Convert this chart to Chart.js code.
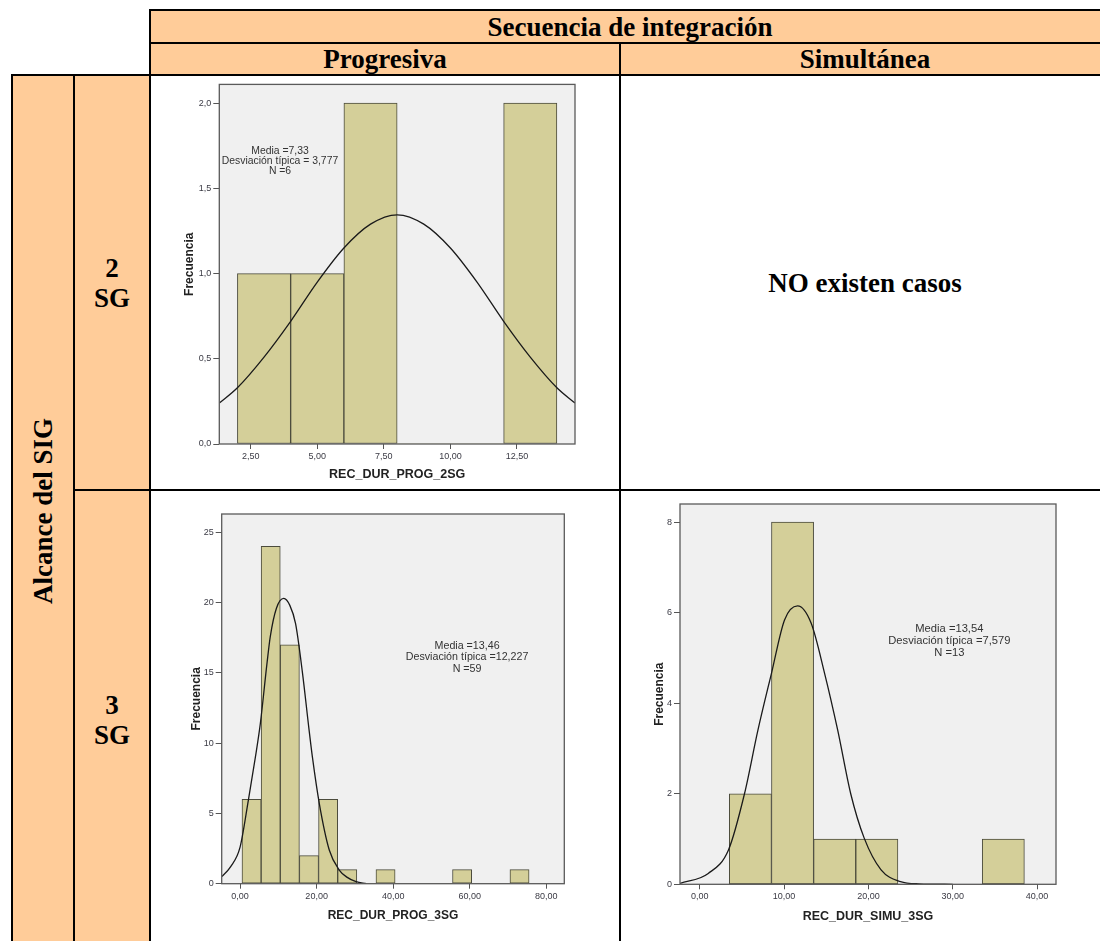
<!DOCTYPE html>
<html lang="es">
<head>
<meta charset="utf-8">
<title>Duración según secuencia de integración y alcance del SIG</title>
<script src="https://cdn.jsdelivr.net/npm/chart.js@4.4.1/dist/chart.umd.min.js"></script>
<style>
  html, body { margin: 0; padding: 0; background: #fff; }
  #page { position: relative; width: 1100px; height: 941px; overflow: hidden;
          font-family: 'Liberation Serif', 'Times New Roman', serif; }
  .cell { position: absolute; display: flex; align-items: center; justify-content: center;
          text-align: center; font-weight: bold; font-size: 27px; color: #000; line-height: 30px; }
  .tan { background: #ffcc99; }
  .ln { position: absolute; background: #000; }
  .rot { position: absolute; white-space: nowrap; font-weight: bold; font-size: 27px;
         transform: translate(-50%, -50%) rotate(-90deg); }
  canvas { position: absolute; }
</style>
</head>
<body>
<div id="page">
  <!-- header and row-label cells -->
  <div class="cell tan" style="left:150px;top:10px;width:960px;height:33px;">Secuencia de integración</div>
  <div class="cell tan" style="left:150px;top:43px;width:470px;height:32px;">Progresiva</div>
  <div class="cell tan" style="left:620px;top:43px;width:490px;height:32px;">Simultánea</div>
  <div class="cell tan" style="left:12px;top:75px;width:62px;height:900px;"></div>
  <div class="rot" style="left:43px;top:511px;">Alcance del SIG</div>
  <div class="cell tan" style="left:74px;top:75px;width:76px;height:415px;">2<br>SG</div>
  <div class="cell tan" style="left:74px;top:490px;width:76px;height:460px;">3<br>SG</div>
  <div class="cell" style="left:620px;top:75px;width:490px;height:415px;">NO existen casos</div>

  <!-- table rules -->
  <div class="ln" style="left:149px;top:9px;width:961px;height:2px;"></div>
  <div class="ln" style="left:149px;top:42px;width:961px;height:2px;"></div>
  <div class="ln" style="left:11px;top:74px;width:1099px;height:2px;"></div>
  <div class="ln" style="left:73px;top:489px;width:1037px;height:2px;"></div>
  <div class="ln" style="left:149px;top:9px;width:2px;height:960px;"></div>
  <div class="ln" style="left:619px;top:42px;width:2px;height:920px;"></div>
  <div class="ln" style="left:11px;top:74px;width:2px;height:900px;"></div>
  <div class="ln" style="left:73px;top:74px;width:2px;height:900px;"></div>

  <canvas id="chartProg2" width="466" height="411" style="left:152px;top:77px;"></canvas>
  <canvas id="chartProg3" width="466" height="449" style="left:152px;top:492px;"></canvas>
  <canvas id="chartSimu3" width="478" height="449" style="left:622px;top:492px;"></canvas>
</div>

<script>
// ---------- REC_DUR_PROG_2SG ----------
const BINS_PROG_2SG   = [3, 5, 7, 9, 11, 13];          // bin centres (width 2)
const COUNTS_PROG_2SG = [1, 1, 2, 0, 0, 2];
const CURVE_X_PROG_2SG = [1.32, 2, 3, 4, 5, 6, 7, 8, 9, 10, 11, 12, 13, 14, 14.68];
const CURVE_Y_PROG_2SG = [0.24, 0.33, 0.51, 0.72, 0.95, 1.15, 1.29, 1.345, 1.29, 1.15, 0.95, 0.72, 0.51, 0.33, 0.24];
const XTICKS_PROG_2SG = [2.5, 5, 7.5, 10, 12.5];
const XLABELS_PROG_2SG = ['2,50', '5,00', '7,50', '10,00', '12,50'];
const YTICKS_PROG_2SG = [0, 0.5, 1, 1.5, 2];
const YLABELS_PROG_2SG = ['0,0', '0,5', '1,0', '1,5', '2,0'];
const STATS_PROG_2SG = ['Media =7,33', 'Desviación típica = 3,777', 'N =6'];

// ---------- REC_DUR_PROG_3SG ----------
const BINS_PROG_3SG   = [3, 8, 13, 18, 23, 28, 33, 38, 43, 48, 53, 58, 63, 68, 73];   // width 5
const COUNTS_PROG_3SG = [6, 24, 17, 2, 6, 1, 0, 1, 0, 0, 0, 1, 0, 0, 1];
const CURVE_X_PROG_3SG = [-4.8, -2.5, 0, 2.2, 4, 5.3, 7, 7.9, 9.5, 11.4, 13, 14.5, 16.3, 18, 18.9, 20.7, 23.3, 25.9, 28, 30.3, 33];
const CURVE_Y_PROG_3SG = [0.5, 1.2, 2.6, 6.0, 9.0, 11.4, 15.6, 17.6, 19.6, 20.3, 19.8, 18.5, 15.0, 11.0, 9.0, 5.7, 2.4, 0.97, 0.45, 0.14, 0];
const XTICKS_PROG_3SG = [0, 20, 40, 60, 80];
const XLABELS_PROG_3SG = ['0,00', '20,00', '40,00', '60,00', '80,00'];
const YTICKS_PROG_3SG = [0, 5, 10, 15, 20, 25];
const YLABELS_PROG_3SG = ['0', '5', '10', '15', '20', '25'];
const STATS_PROG_3SG = ['Media =13,46', 'Desviación típica =12,227', 'N =59'];

// ---------- REC_DUR_SIMU_3SG ----------
const BINS_SIMU_3SG   = [6, 11, 16, 21, 26, 31, 36];   // width 5
const COUNTS_SIMU_3SG = [2, 8, 1, 1, 0, 0, 1];
const CURVE_X_SIMU_3SG = [-2.35, 1, 3.4, 5.3, 6.9, 8.5, 10.05, 11.6, 13.2, 14.8, 16.35, 17.9, 19.5, 21.5, 23.8, 26, 30];
const CURVE_Y_SIMU_3SG = [0.02, 0.24, 0.76, 2.0, 3.41, 4.66, 5.84, 6.15, 5.77, 4.66, 3.41, 2.0, 1.02, 0.32, 0.06, 0.01, 0];
const XTICKS_SIMU_3SG = [0, 10, 20, 30, 40];
const XLABELS_SIMU_3SG = ['0,00', '10,00', '20,00', '30,00', '40,00'];
const YTICKS_SIMU_3SG = [0, 2, 4, 6, 8];
const YLABELS_SIMU_3SG = ['0', '2', '4', '6', '8'];
const STATS_SIMU_3SG = ['Media =13,54', 'Desviación típica =7,579', 'N =13'];

const SANS = "'Liberation Sans', Arial, sans-serif";

// Grey plot background and dark frame around the plotting area
const plotFrame = {
  id: 'plotFrame',
  beforeDraw(chart) {
    const { ctx, chartArea: a } = chart;
    ctx.save();
    ctx.fillStyle = '#f0f0f0';
    ctx.fillRect(a.left, a.top, a.right - a.left, a.bottom - a.top);
    ctx.restore();
  },
  afterDraw(chart) {
    const { ctx, chartArea: a } = chart;
    ctx.save();
    ctx.strokeStyle = '#5a5a5a';
    ctx.lineWidth = 1.3;
    ctx.strokeRect(a.left, a.top, a.right - a.left, a.bottom - a.top);
    ctx.restore();
  }
};

// Summary statistics block inside the plot
const statsText = {
  id: 'statsText',
  afterDraw(chart, args, opts) {
    if (!opts || !opts.lines) return;
    const { ctx, scales } = chart;
    const cx = scales.x.getPixelForValue(opts.x);
    const cy = scales.y.getPixelForValue(opts.y);
    ctx.save();
    ctx.fillStyle = '#333';
    ctx.font = opts.size + 'px ' + SANS;
    ctx.textAlign = 'center';
    ctx.textBaseline = 'middle';
    opts.lines.forEach((t, i) => ctx.fillText(t, cx, cy + i * opts.spacing));
    ctx.restore();
  }
};

function histogram(id, d, g) {
  const barPts = d.bins.map((b, i) => ({ x: b, y: d.counts[i] }));
  const curvePts = d.curveX.map((x, i) => ({ x: x, y: d.curveY[i] }));
  return new Chart(document.getElementById(id), {
    type: 'bar',
    data: {
      datasets: [
        {
          type: 'line', data: curvePts, order: 0,
          borderColor: '#1a1a1a', borderWidth: 1.3, pointRadius: 0,
          cubicInterpolationMode: 'monotone', fill: false
        },
        {
          type: 'bar', data: barPts, order: 1,
          backgroundColor: '#d4cf99', borderColor: '#4b4b3c',
          borderWidth: c => (c.raw && c.raw.y > 0 ? 1 : 0),
          borderSkipped: false, barPercentage: 1, categoryPercentage: 1
        }
      ]
    },
    options: {
      responsive: false, animation: false, devicePixelRatio: 1,
      layout: { padding: g.pad },
      plugins: {
        legend: { display: false }, tooltip: { enabled: false },
        statsText: { lines: d.stats, x: g.statX, y: g.statY, size: g.statSize, spacing: g.statSpacing }
      },
      scales: {
        x: {
          type: 'linear', min: g.xMin, max: g.xMax, offset: false,
          afterBuildTicks: s => { s.ticks = d.xTicks.map(v => ({ value: v })); },
          afterFit: s => { s.height = g.xAxisH; },
          ticks: {
            callback: (v, i) => d.xLabels[i], autoSkip: false, maxRotation: 0,
            font: { family: SANS, size: 9 }, color: '#3a3a44', padding: 2
          },
          grid: { offset: false, drawOnChartArea: false, drawTicks: true, tickLength: 5, color: '#555' },
          border: { display: false },
          title: {
            display: true, text: d.xTitle, color: '#222',
            font: { family: SANS, size: g.titleSize, weight: 'bold' },
            padding: { top: 0, bottom: g.xTitlePad }
          }
        },
        y: {
          type: 'linear', min: 0, max: g.yMax,
          afterBuildTicks: s => { s.ticks = d.yTicks.map(v => ({ value: v })); },
          afterFit: s => { s.width = g.yAxisW; },
          ticks: {
            callback: (v, i) => d.yLabels[i], autoSkip: false,
            font: { family: SANS, size: 9 }, color: '#3a3a44', padding: 2
          },
          grid: { offset: false, drawOnChartArea: false, drawTicks: true, tickLength: 6, color: '#555' },
          border: { display: false },
          title: {
            display: true, text: 'Frecuencia', color: '#222',
            font: { family: SANS, size: 12, weight: 'bold' },
            padding: { top: g.yTitlePad, bottom: 0 }
          }
        }
      }
    },
    plugins: [plotFrame, statsText]
  });
}

histogram('chartProg2', {
  bins: BINS_PROG_2SG, counts: COUNTS_PROG_2SG,
  curveX: CURVE_X_PROG_2SG, curveY: CURVE_Y_PROG_2SG,
  xTicks: XTICKS_PROG_2SG, xLabels: XLABELS_PROG_2SG,
  yTicks: YTICKS_PROG_2SG, yLabels: YLABELS_PROG_2SG,
  xTitle: 'REC_DUR_PROG_2SG', stats: STATS_PROG_2SG
}, {
  xMin: 1.32, xMax: 14.68, yMax: 2.11,
  pad: { left: 0, top: 7, right: 43, bottom: 0 },
  yAxisW: 67.3, xAxisH: 44, yTitlePad: 30.8, xTitlePad: 5.8, titleSize: 12.5,
  statX: 3.6, statY: 1.716, statSize: 10.4, statSpacing: 9.6
});

histogram('chartProg3', {
  bins: BINS_PROG_3SG, counts: COUNTS_PROG_3SG,
  curveX: CURVE_X_PROG_3SG, curveY: CURVE_Y_PROG_3SG,
  xTicks: XTICKS_PROG_3SG, xLabels: XLABELS_PROG_3SG,
  yTicks: YTICKS_PROG_3SG, yLabels: YLABELS_PROG_3SG,
  xTitle: 'REC_DUR_PROG_3SG', stats: STATS_PROG_3SG
}, {
  xMin: -4.8, xMax: 84.7, yMax: 26.3,
  pad: { left: 0, top: 22, right: 53.7, bottom: 0 },
  yAxisW: 69.7, xAxisH: 57.3, yTitlePad: 37.5, xTitlePad: 17.8, titleSize: 12,
  statX: 59.3, statY: 16.9, statSize: 10.7, statSpacing: 11.3
});

histogram('chartSimu3', {
  bins: BINS_SIMU_3SG, counts: COUNTS_SIMU_3SG,
  curveX: CURVE_X_SIMU_3SG, curveY: CURVE_Y_SIMU_3SG,
  xTicks: XTICKS_SIMU_3SG, xLabels: XLABELS_SIMU_3SG,
  yTicks: YTICKS_SIMU_3SG, yLabels: YLABELS_SIMU_3SG,
  xTitle: 'REC_DUR_SIMU_3SG', stats: STATS_SIMU_3SG
}, {
  xMin: -2.35, xMax: 42.25, yMax: 8.4,
  pad: { left: 0, top: 12, right: 44, bottom: 0 },
  yAxisW: 58, xAxisH: 56.7, yTitlePad: 30.1, xTitlePad: 17.1, titleSize: 12.5,
  statX: 29.6, statY: 5.64, statSize: 11.2, statSpacing: 12
});
</script>
</body>
</html>
